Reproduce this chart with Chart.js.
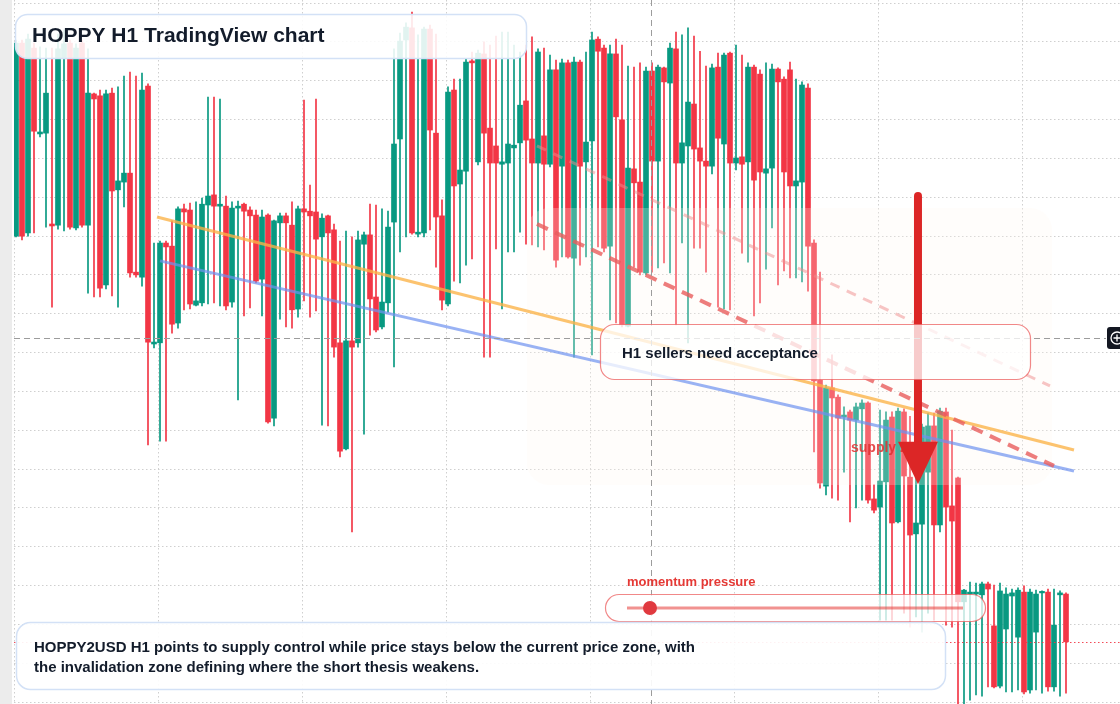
<!DOCTYPE html>
<html><head><meta charset="utf-8">
<script src="https://cdn.jsdelivr.net/npm/chart.js@4.4.1/dist/chart.umd.min.js"></script>
<style>html,body{margin:0;padding:0;background:#fff;overflow:hidden}#wrap{position:relative;width:1120px;height:704px}canvas{display:block}</style>
</head><body><div id="wrap"><canvas id="c" width="1120" height="704"></canvas></div>
<script>
// HOPPY2USD H1 candles (price units, gridline step = 1)
const opens = [12.00,16.97,12.08,16.84,14.63,14.65,12.31,12.28,16.58,16.97,12.21,16.97,12.28,15.66,15.61,10.74,15.68,13.19,13.39,13.62,11.07,10.94,15.86,9.22,9.25,11.82,11.74,9.76,12.70,12.67,10.22,10.28,12.80,13.06,12.77,12.77,10.30,12.72,12.82,12.67,12.54,10.89,12.54,7.31,12.34,12.52,12.28,10.12,12.70,12.64,12.62,11.98,12.52,12.16,9.25,6.52,9.30,9.25,11.79,12.03,10.43,9.66,10.28,12.36,14.50,17.05,17.36,12.05,12.08,17.33,14.65,12.52,10.25,15.76,13.34,13.67,16.51,13.91,16.69,14.78,14.32,13.85,13.88,14.27,14.40,15.48,14.50,13.88,14.58,13.85,16.28,13.80,16.46,11.43,16.48,13.91,14.45,17.07,16.84,11.74,16.69,14.99,9.68,13.73,13.39,11.05,16.25,13.93,16.33,15.94,16.82,13.88,14.32,15.40,14.27,13.93,13.80,16.35,14.37,16.71,13.88,14.04,13.91,16.35,16.17,13.62,13.75,16.30,16.04,16.28,13.29,13.39,15.81,11.82,8.29,5.56,8.09,7.85,7.34,7.47,7.26,7.55,7.70,5.23,5.02,5.67,7.34,4.64,7.47,5.79,4.33,4.58,5.92,7.11,4.56,7.47,5.05,5.77,2.58,2.78,2.78,2.76,3.04,1.96,0.41,1.88,2.73,1.67,2.83,0.31,1.80,2.81,2.83,0.39,2.76,2.78];
const highs = [17.05,17.05,17.20,16.97,16.87,16.84,16.84,17.20,17.31,17.05,16.95,17.05,16.82,15.68,15.76,15.76,15.81,15.84,16.12,16.22,16.12,16.20,15.92,11.82,11.87,11.87,12.39,12.75,12.82,12.85,12.88,12.98,15.58,15.58,15.53,13.03,12.88,12.90,12.85,12.75,12.67,12.67,12.57,12.41,12.59,12.59,12.88,12.77,15.50,13.31,15.53,12.57,12.54,12.31,11.87,12.13,11.98,12.13,12.10,12.82,12.80,12.70,12.64,16.82,17.23,17.49,17.77,17.18,17.38,17.43,17.20,12.93,15.84,16.04,16.04,16.58,16.74,16.79,17.00,16.92,17.15,17.25,17.25,16.92,16.74,16.92,17.13,16.82,16.84,16.66,16.53,16.56,16.53,16.61,16.53,16.74,17.25,17.13,16.92,16.92,17.07,16.92,16.38,16.35,16.46,16.35,16.46,16.40,16.35,16.97,17.25,17.18,17.36,17.15,16.76,16.38,16.43,16.71,16.71,16.74,16.92,16.66,16.46,16.40,16.28,16.46,16.43,16.33,16.10,16.48,16.04,15.97,15.92,11.90,11.07,8.16,8.94,7.91,7.60,7.52,7.70,7.78,7.73,5.59,7.52,7.47,7.47,7.57,7.55,7.36,7.52,7.16,7.44,7.44,7.57,7.57,7.00,5.79,2.90,3.09,3.06,3.09,3.09,3.01,3.06,2.94,2.91,2.94,2.99,2.91,2.88,2.86,2.91,2.91,2.86,2.81];
const lows = [11.98,11.90,12.00,12.08,14.55,12.23,10.17,12.18,12.13,12.18,12.16,12.23,10.53,10.43,10.43,10.64,10.46,10.17,12.75,10.94,10.94,10.71,6.62,9.12,6.72,6.72,9.50,9.63,10.10,10.12,10.20,10.20,10.25,10.28,10.20,10.10,10.17,7.78,9.94,10.15,10.79,9.94,7.18,7.11,9.86,9.66,9.63,9.91,10.33,9.91,10.07,7.13,7.11,8.88,6.31,6.49,4.38,9.14,6.90,9.45,9.53,9.61,10.04,8.63,11.59,11.98,12.05,11.98,11.98,12.16,11.20,10.10,10.20,10.84,10.79,11.25,11.41,13.83,8.88,8.88,11.67,10.12,11.59,11.59,12.10,11.79,11.77,11.72,11.64,13.78,11.20,11.46,11.43,8.88,11.25,11.46,8.94,11.72,11.59,9.84,9.76,9.66,9.66,11.20,11.00,11.00,11.07,11.18,11.31,11.05,9.71,11.82,9.25,11.69,11.69,11.07,13.60,10.17,10.12,10.10,13.70,11.56,11.33,9.94,10.28,11.15,12.21,10.74,11.10,10.92,10.92,10.82,10.58,6.44,5.51,5.33,5.25,5.20,5.92,4.64,5.00,5.20,5.12,4.87,2.11,2.11,2.11,4.61,2.29,1.93,2.19,1.80,2.29,2.11,4.38,1.98,1.93,-0.05,-0.05,0.05,0.18,0.15,0.39,0.36,0.36,0.26,0.26,0.31,0.21,0.23,0.31,0.23,0.28,0.28,0.15,0.23];
const closes = [16.97,12.00,17.07,14.70,14.68,15.68,12.26,16.82,16.95,12.23,16.84,12.28,15.68,15.53,10.66,15.66,13.16,13.42,13.62,11.05,11.00,15.76,9.27,9.27,11.82,11.72,9.73,12.70,12.62,10.25,10.33,12.82,13.03,12.77,12.82,10.20,12.72,12.77,12.64,12.52,10.84,12.49,7.21,12.39,12.52,12.34,10.10,12.70,12.62,12.52,11.92,12.46,12.08,9.14,6.46,9.30,9.14,11.90,12.03,10.38,9.58,10.30,12.23,14.37,17.02,17.38,12.08,12.10,17.33,14.73,12.49,10.35,15.71,13.29,13.70,16.48,16.46,16.71,14.65,13.88,13.88,13.91,14.37,14.34,15.37,14.47,13.88,16.74,13.85,16.28,11.38,16.46,11.46,16.48,13.80,14.42,17.05,16.76,11.69,16.69,15.07,9.71,13.75,13.37,11.07,16.25,13.93,16.35,15.97,16.84,13.88,14.40,15.45,14.24,13.93,13.80,16.33,14.52,16.66,13.88,14.01,13.85,16.35,13.44,13.65,13.73,16.30,15.97,13.65,13.29,13.42,15.89,11.74,8.27,5.64,8.09,7.83,7.31,7.39,7.26,7.60,7.70,5.20,4.94,5.69,7.26,4.61,7.49,5.82,4.30,4.61,7.08,7.11,4.56,7.49,5.02,4.66,2.58,2.88,2.83,2.83,3.04,2.91,0.39,2.86,2.78,2.81,2.88,0.26,2.83,2.78,2.83,0.39,1.98,2.81,1.55];
const sessionStarts = [0,24,48,72,96,120,144,168];
const priceGrid = [0,1,2,3,4,5,6,7,8,9,10,11,12,13,14,15,16,17,18];
const trendOrange = [{x:23.5,y:12.49},{x:176.33,y:6.49}];
const trendBlue = [{x:24.0,y:11.36},{x:176.33,y:5.95}];
const trendRedDash = [{x:86.83,y:12.31},{x:173.0,y:6.08}];
const trendPaleDash = [{x:86.83,y:14.32},{x:172.33,y:8.14}];
const supplyZone = {x0:85.17,x1:172.67,yTop:12.72,yBottom:5.59};
const arrow = {x:150.33,yTop:13.03,yBase:6.70,yTip:5.61};
const crosshair = {x:105.83,y:9.37};

const GREEN='#089981', RED='#f23645';
const isUp = i => closes[i] >= opens[i];
const bodyData = opens.map((o,i)=>({x:i,y:[o,closes[i]]}));
const wickData = lows.map((l,i)=>({x:i,y:[l,highs[i]]}));

function rr(ctx,x,y,w,h,r){ctx.beginPath();ctx.moveTo(x+r,y);ctx.lineTo(x+w-r,y);ctx.arcTo(x+w,y,x+w,y+r,r);ctx.lineTo(x+w,y+h-r);ctx.arcTo(x+w,y+h,x+w-r,y+h,r);ctx.lineTo(x+r,y+h);ctx.arcTo(x,y+h,x,y+h-r,r);ctx.lineTo(x,y+r);ctx.arcTo(x,y,x+r,y,r);ctx.closePath();}

const overlay = {
  id:'overlay',
  beforeDraw(chart){
    const c=chart.ctx; c.save(); c.fillStyle='#ffffff'; c.fillRect(0,0,chart.width,chart.height);
    c.fillStyle='#ececec'; c.fillRect(0,0,12,chart.height); c.restore();
  },
  afterDatasetDraw(chart,args){
    if(args.index!==1) return;
    const c=chart.ctx, xs=chart.scales.x, ys=chart.scales.y;
    const x0=xs.getPixelForValue(supplyZone.x0), x1=xs.getPixelForValue(supplyZone.x1);
    const y0=ys.getPixelForValue(supplyZone.yTop), y1=ys.getPixelForValue(supplyZone.yBottom);
    c.save(); rr(c,x0,y0,x1-x0,y1-y0,22); c.fillStyle='rgba(255,248,240,0.25)'; c.fill(); c.restore();
  },
  afterDatasetsDraw(chart){
    const c=chart.ctx, xs=chart.scales.x, ys=chart.scales.y, ca=chart.chartArea;
    const font='"Liberation Sans", Arial, sans-serif';
    c.save();
    // supply label
    c.font='bold 14px '+font; c.fillStyle='rgba(224,48,48,0.85)'; c.textBaseline='middle';
    c.fillText('supply zone',851,448);
    // arrow
    const ax=xs.getPixelForValue(arrow.x), at=ys.getPixelForValue(arrow.yTop), ab=ys.getPixelForValue(arrow.yBase), tip=ys.getPixelForValue(arrow.yTip);
    c.strokeStyle='#dc2626'; c.lineWidth=8; c.lineCap='round';
    c.beginPath(); c.moveTo(ax,at); c.lineTo(ax,ab); c.stroke();
    c.fillStyle='#dc2626'; c.beginPath(); c.moveTo(ax-20,ab); c.lineTo(ax+20,ab); c.lineTo(ax,tip); c.closePath(); c.fill();
    // crosshair
    const cx=xs.getPixelForValue(crosshair.x), cy=ys.getPixelForValue(crosshair.y);
    c.lineCap='butt'; c.strokeStyle='#9c9c9c'; c.lineWidth=1; c.setLineDash([6,4]);
    c.beginPath(); c.moveTo(Math.round(cx)+0.5,0); c.lineTo(Math.round(cx)+0.5,chart.height); c.stroke();
    c.beginPath(); c.moveTo(ca.left,Math.round(cy)+0.5); c.lineTo(1106,Math.round(cy)+0.5); c.stroke();
    // current price line
    const py=ys.getPixelForValue(closes[closes.length-1]);
    c.strokeStyle='rgba(242,54,69,0.9)'; c.setLineDash([1.5,2.5]);
    c.beginPath(); c.moveTo(ca.left,Math.round(py)+0.5); c.lineTo(chart.width,Math.round(py)+0.5); c.stroke();
    c.setLineDash([]);
    // title box
    rr(c,15.5,14.5,511,44,12); c.fillStyle='rgba(255,255,255,0.88)'; c.fill(); c.strokeStyle='#d3e1f6'; c.lineWidth=1.5; c.stroke();
    c.fillStyle='#131c2b'; c.font='bold 21px '+font; c.textBaseline='middle'; c.fillText('HOPPY H1 TradingView chart',32,36.5);
    // sellers box
    rr(c,600.5,324.5,430,55,14); c.fillStyle='rgba(255,255,255,0.76)'; c.fill(); c.strokeStyle='rgba(236,96,96,0.75)'; c.lineWidth=1.2; c.stroke();
    c.fillStyle='#131c2b'; c.font='bold 15px '+font; c.fillText('H1 sellers need acceptance',622,354);
    // momentum
    c.font='bold 13px '+font; c.fillStyle='#e53935'; c.fillText('momentum pressure',627,582.5);
    rr(c,605.5,594.5,380,27,13.5); c.fillStyle='rgba(255,255,255,0.76)'; c.fill(); c.strokeStyle='rgba(236,96,96,0.75)'; c.lineWidth=1.2; c.stroke();
    c.strokeStyle='rgba(229,57,53,0.55)'; c.lineWidth=3; c.beginPath(); c.moveTo(627,608); c.lineTo(963,608); c.stroke();
    c.fillStyle='#e0393f'; c.beginPath(); c.arc(650,608,7,0,Math.PI*2); c.fill();
    // bottom box
    rr(c,16.5,622.5,929,67,14); c.fillStyle='rgba(255,255,255,0.92)'; c.fill(); c.strokeStyle='#d3e1f6'; c.lineWidth=1.5; c.stroke();
    c.fillStyle='#131c2b'; c.font='bold 15px '+font;
    c.fillText('HOPPY2USD H1 points to supply control while price stays below the current price zone, with',34,647.5);
    c.fillText('the invalidation zone defining where the short thesis weakens.',34,667.5);
    // right crosshair label
    rr(c,1107,327,22,22,3); c.fillStyle='#131722'; c.fill();
    c.strokeStyle='#ffffff'; c.lineWidth=1.3; c.beginPath(); c.arc(1117,338,6,0,Math.PI*2); c.stroke();
    c.beginPath(); c.moveTo(1113.5,338); c.lineTo(1120.5,338); c.moveTo(1117,334.5); c.lineTo(1117,341.5); c.stroke();
    c.restore();
  }
};

new Chart(document.getElementById('c'), {
  type:'bar',
  data:{datasets:[
    {type:'bar',label:'wicks',data:wickData,backgroundColor:ctx=>isUp(ctx.dataIndex)?GREEN:RED,barThickness:1,grouped:false,order:10},
    {type:'bar',label:'bodies',data:bodyData,backgroundColor:ctx=>isUp(ctx.dataIndex)?GREEN:RED,barThickness:5,minBarLength:1.5,grouped:false,order:9},
    {type:'line',label:'pale',data:trendPaleDash,borderColor:'rgba(240,140,140,0.5)',borderWidth:3,borderDash:[10,8],pointRadius:0,fill:false,order:4},
    {type:'line',label:'orange',data:trendOrange,borderColor:'rgba(251,178,70,0.78)',borderWidth:3,pointRadius:0,fill:false,order:3},
    {type:'line',label:'blue',data:trendBlue,borderColor:'rgba(110,145,240,0.7)',borderWidth:3,pointRadius:0,fill:false,order:2},
    {type:'line',label:'reddash',data:trendRedDash,borderColor:'rgba(232,92,92,0.8)',borderWidth:4,borderDash:[12,8],pointRadius:0,fill:false,order:1}
  ]},
  options:{
    animation:false,responsive:false,devicePixelRatio:1,events:[],
    layout:{padding:{left:14,right:0,top:0,bottom:0}},
    plugins:{legend:{display:false},tooltip:{enabled:false}},
    scales:{
      x:{type:'linear',min:-1/3,max:184,offset:false,
         grid:{offset:false,color:'#cfcfcf',drawTicks:false,lineWidth:1},
         border:{display:false,dash:[1.5,2.5]},ticks:{display:false},
         afterBuildTicks:s=>{s.ticks=sessionStarts.map(v=>({value:v-0.17}));}},
      y:{type:'linear',min:-0.0515,max:18.079,
         grid:{color:'#cfcfcf',drawTicks:false,lineWidth:1},
         border:{display:false,dash:[1.5,2.5]},ticks:{display:false},
         afterBuildTicks:s=>{s.ticks=priceGrid.map(v=>({value:v}));}}
    }
  },
  plugins:[overlay]
});
</script></body></html>
